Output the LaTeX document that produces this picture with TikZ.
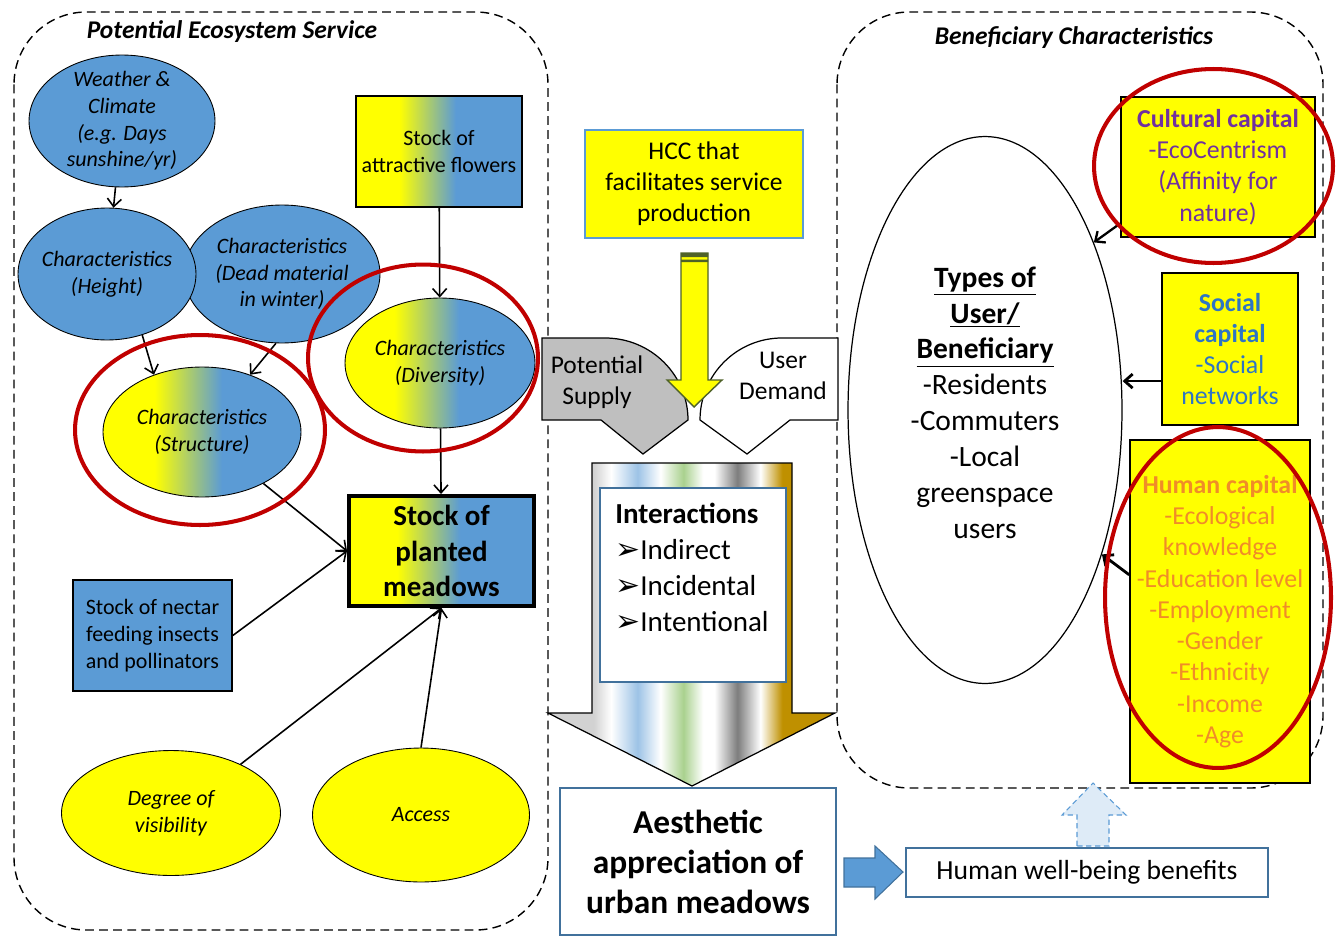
\documentclass[tikz,border=0pt]{standalone}
\usepackage{fontspec}
\setmainfont{Carlito}
\newfontfamily\dejavu{DejaVu Sans}
\usetikzlibrary{arrows,arrows.meta,shapes,positioning}

\definecolor{msblue}{RGB}{91,155,213}
\definecolor{msdark}{RGB}{65,113,156}
\definecolor{msyellow}{RGB}{255,255,0}
\definecolor{msred}{RGB}{192,0,0}
\definecolor{mspurple}{RGB}{112,48,160}
\definecolor{mssky}{RGB}{46,117,196}
\definecolor{msorange}{RGB}{240,140,40}
\definecolor{msolive}{RGB}{79,98,40}
\definecolor{mspale}{RGB}{222,235,247}
\definecolor{msgray}{RGB}{191,191,191}
\definecolor{stlight}{RGB}{210,210,210}
\definecolor{stblue}{RGB}{157,195,230}
\definecolor{stgreen}{RGB}{169,209,142}
\definecolor{stdark}{RGB}{125,125,125}
\definecolor{stgold}{RGB}{191,144,0}

\pgfdeclarehorizontalshading{yellowblue}{100bp}{color(0bp)=(msyellow); color(38bp)=(msyellow); color(55bp)=(msblue); color(100bp)=(msblue)}
\pgfdeclarehorizontalshading{stripes}{100bp}{color(0bp)=(stlight); color(25bp)=(stlight); color(33bp)=(stlight); color(36bp)=(white); color(40.6bp)=(stblue); color(44.6bp)=(white); color(48.6bp)=(stgreen); color(52bp)=(white); color(54bp)=(white); color(58bp)=(stdark); color(62bp)=(white); color(65.8bp)=(stgold); color(100bp)=(stgold)}

\tikzset{
  dashbox/.style={draw, line width=0.8pt, dash pattern=on 5pt off 3pt, rounded corners=1.45cm},
  titletext/.style={font=\fontsize{14.5}{17}\selectfont\bfseries\itshape},
  ovaltext/.style={font=\fontsize{12.5}{15.2}\selectfont\itshape, align=center},
  blueoval/.style={ellipse, draw, line width=0.5pt, fill=msblue},
  mixoval/.style={ellipse, draw, line width=0.5pt, shade, shading=yellowblue},
  yelloval/.style={ellipse, draw, line width=0.5pt, fill=msyellow},
  boxtext/.style={font=\fontsize{12.5}{15.2}\selectfont, align=center},
  capbox/.style={draw, line width=0.9pt, fill=msyellow, inner sep=1pt, align=center, font=\fontsize{14.7}{17.8}\selectfont},
  link/.style={->, line width=0.9pt},
  heavylink/.style={->, line width=1.6pt},
  redring/.style={draw=msred, line width=2.3pt},
}

\begin{document}
\begin{tikzpicture}[x=0.02cm, y=-0.02cm, >={Straight Barb[length=4.5pt,width=8pt]}]
\useasboundingbox (0,0) rectangle (1341,936);

% dashed frames
\draw[dashbox] (14,12) rectangle (548,930);
\draw[dashbox] (837,12) rectangle (1323,788);
\node[titletext] (pestitle) at (232,32) {Potential Ecosystem Service};
\node[titletext] (bentitle) at (1074,38) {Beneficiary Characteristics};

% potential ecosystem service
\node[blueoval, minimum width=3.72cm, minimum height=2.64cm,
  label={[ovaltext]center:Weather \&\\Climate\\(e.g. Days\\sunshine/yr)}] (weather) at (122,121) {};
\node[blueoval, minimum width=3.92cm, minimum height=2.76cm,
  label={[ovaltext]center:Characteristics\\(Dead material\\in winter)}] (dead) at (282,274) {};
\node[blueoval, minimum width=3.56cm, minimum height=2.64cm,
  label={[ovaltext]center:Characteristics\\(Height)}] (height) at (107,274) {};
\node[mixoval, minimum width=3.8cm, minimum height=2.6cm,
  label={[ovaltext]center:Characteristics\\(Diversity)}] (diversity) at (440,363) {};
\node[mixoval, minimum width=3.96cm, minimum height=2.6cm,
  label={[ovaltext]center:Characteristics\\(Structure)}] (structure) at (202,432) {};
\node[draw, line width=1.1pt, shade, shading=yellowblue, minimum width=3.2cm,
  minimum height=2.22cm, boxtext] (flowers) at (439,151.5) {Stock of\\attractive flowers};
\node[draw, line width=2.3pt, shade, shading=yellowblue, minimum width=3.7cm,
  minimum height=2.2cm, inner sep=1pt, align=center,
  font=\fontsize{16.5}{20.4}\selectfont\bfseries] (stock) at (441.5,551) {Stock of\\planted\\meadows};
\node[draw, line width=0.9pt, fill=msblue, minimum width=3.18cm, minimum height=2.22cm,
  boxtext] (nectar) at (152.5,635.5) {Stock of nectar\\feeding insects\\and pollinators};
\node[yelloval, minimum width=4.38cm, minimum height=2.5cm,
  label={[ovaltext]center:Degree of\\visibility}] (degree) at (171,813) {};
\node[yelloval, minimum width=4.34cm, minimum height=2.68cm,
  label={[ovaltext]center:Access}] (access) at (421,815) {};

\draw[link] (weather) -- (height);
\draw[link] (height.-60) -- (structure.130);
\draw[link] (dead.-95) -- (structure.50);
\draw[link] (flowers) -- (diversity);
\draw[link] (diversity) -- (stock);
\draw[link] (structure.-40) -- (stock.west);
\draw[link] (nectar.east) -- (stock.west);
\draw[link] (degree.35) -- (stock.south);
\draw[link] (access.north) -- (stock.south);

% supply and demand
\node[draw=msblue, line width=0.8pt, fill=msyellow, minimum width=4.36cm, minimum height=2.16cm,
  align=center, font=\fontsize{14.5}{17.6}\selectfont] (hcc) at (694,184) {HCC that\\facilitates service\\production};
\draw[line width=0.7pt, fill=msgray] (542,338) -- (605,338)
  arc[start angle=90, end angle=0, x radius=1.66cm, y radius=1.64cm]
  -- (643,454) -- (601,420) -- (542,420) -- cycle;
\draw[line width=0.7pt, fill=white] (838,338) -- (782,338)
  arc[start angle=90, end angle=180, x radius=1.64cm, y radius=1.64cm]
  -- (747,454) -- (790,420) -- (838,420) -- cycle;
\node[align=center, font=\fontsize{14.5}{17.6}\selectfont] (supply) at (597,382) {Potential\\Supply};
\node[align=center, font=\fontsize{14.5}{17.6}\selectfont] (demand) at (783,376) {User\\Demand};
\draw[line width=0.8pt, draw=msolive, fill=msyellow] (681,253) -- (708,253) -- (708,380)
  -- (722,380) -- (694,407) -- (667,380) -- (681,380) -- cycle;
\fill[msolive] (681,253) rectangle (708,257) (681,259.5) rectangle (708,262);

% interactions
\draw[line width=0.7pt, shade, shading=stripes] (592,463) -- (792,463) -- (792,713)
  -- (835,713) -- (692,786) -- (548,713) -- (592,713) -- cycle;
\node[draw=msdark, line width=0.8pt, fill=white, minimum width=3.72cm,
  minimum height=3.88cm] (interbox) at (693,585) {};
\node[anchor=west, align=left, inner sep=0pt, font=\fontsize{16.5}{20.4}\selectfont]
  (intertext) at (615,567.5) {\textbf{Interactions}\\{\dejavu\fontsize{17}{20}\selectfont ➢}Indirect\\{\dejavu\fontsize{17}{20}\selectfont ➢}Incidental\\{\dejavu\fontsize{17}{20}\selectfont ➢}Intentional};

% outcome
\node[draw=msdark, line width=0.8pt, fill=white, minimum width=5.52cm, minimum height=2.94cm,
  align=center, font=\fontsize{19}{22.7}\selectfont\bfseries] (aesthetic) at (698,861.5)
  {Aesthetic\\appreciation of\\urban meadows};
\draw[line width=0.6pt, draw=msdark, fill=msblue] (844,858) -- (875,858) -- (875,846)
  -- (903,872) -- (875,899) -- (875,887) -- (844,887) -- cycle;
\draw[line width=0.6pt, draw=msblue, fill=mspale, dash pattern=on 3pt off 2pt]
  (1077,846) -- (1077,815) -- (1062,815) -- (1093,783) -- (1126,815) -- (1109,815) -- (1109,846) -- cycle;
\node[draw=msdark, line width=0.8pt, fill=white, minimum width=7.24cm, minimum height=0.98cm,
  font=\fontsize{15.7}{18}\selectfont] (wellbeing) at (1087,872.5) {Human well-being benefits};

% beneficiary characteristics
\node[ellipse, draw, line width=0.7pt, minimum width=5.48cm, minimum height=10.94cm,
  label={[align=center, yshift=0.15cm, font=\fontsize{16.8}{20.4}\selectfont]center:\textbf{\underline{Types of}}\\\textbf{\underline{User/}}\\\textbf{\underline{Beneficiary}}\\-Residents\\-Commuters\\-Local\\greenspace\\users}]
  (users) at (985,410) {};
\node[capbox, line width=1.2pt, minimum width=3.88cm, minimum height=2.8cm, text=mspurple]
  (cultural) at (1218,167) {\textbf{Cultural capital}\\-EcoCentrism\\(Affinity for\\nature)};
\node[capbox, minimum width=2.72cm, minimum height=3.04cm, text=mssky]
  (social) at (1230,349) {\textbf{Social}\\\textbf{capital}\\-Social\\networks};
\node[capbox, minimum width=3.6cm, minimum height=6.86cm, text=msorange]
  (human) at (1220,611.5) {\textbf{Human capital}\\-Ecological\\knowledge\\-Education level\\-Employment\\-Gender\\-Ethnicity\\-Income\\-Age};

\draw[link, line width=1.3pt] (cultural.210) -- (users.57);
\draw[heavylink] (social.-155) -- (social.-155 -| users.east);
\draw[heavylink] (human.158) -- (users.-51);

% highlights
\draw[redring] (200,430) ellipse [x radius=2.5cm, y radius=1.9cm];
\draw[redring] (423,358) ellipse [x radius=2.3cm, y radius=1.87cm];
\draw[redring] (1213.5,166) ellipse [x radius=2.39cm, y radius=1.94cm];
\draw[redring] (1218,597.5) ellipse [x radius=2.26cm, y radius=3.41cm];
\end{tikzpicture}
\end{document}
